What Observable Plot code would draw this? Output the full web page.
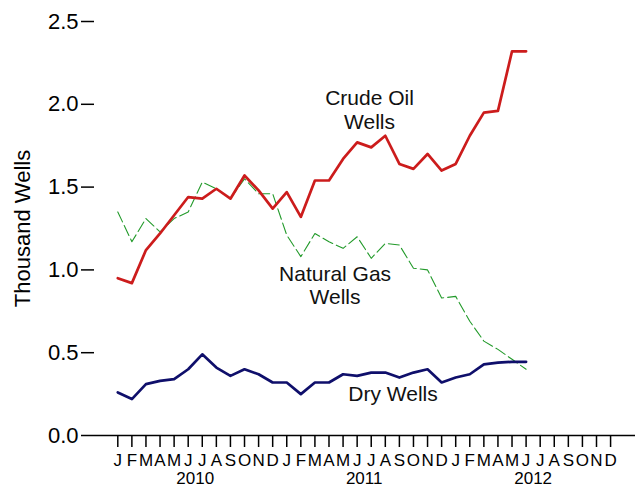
<!DOCTYPE html>
<html><head><meta charset="utf-8">
<script src="https://cdn.jsdelivr.net/npm/d3@7"></script>
<script src="https://cdn.jsdelivr.net/npm/@observablehq/plot@0.6"></script>
<style>body{margin:0;background:#fff} #chart{width:635px;height:487px}</style>
</head><body><div id="chart"></div>
<script>
// Month tick letters and years on the x axis
const monthLetters = ["J","F","M","A","M","J","J","A","S","O","N","D"];
const years = ["2010","2011","2012"];
const axisMonths = 36; // Jan 2010 .. Dec 2012
// Monthly values Jan 2010 .. Jun 2012 (thousand wells)
const crude = [0.95,0.92,1.12,1.22,1.33,1.44,1.43,1.49,1.43,1.57,1.48,1.37,
               1.47,1.32,1.54,1.54,1.67,1.77,1.74,1.81,1.64,1.61,1.70,1.60,
               1.64,1.81,1.95,1.96,2.32,2.32];
const gas   = [1.35,1.17,1.31,1.23,1.31,1.35,1.53,1.49,1.43,1.55,1.46,1.46,
               1.21,1.08,1.22,1.17,1.13,1.20,1.07,1.16,1.15,1.01,1.00,0.83,
               0.84,0.69,0.57,0.52,0.46,0.40];
const dry   = [0.26,0.22,0.31,0.33,0.34,0.40,0.49,0.41,0.36,0.40,0.37,0.32,
               0.32,0.25,0.32,0.32,0.37,0.36,0.38,0.38,0.35,0.38,0.40,0.32,
               0.35,0.37,0.43,0.44,0.445,0.445];
const yTicks = [0,0.5,1,1.5,2,2.5];
const seriesLabels = ["Crude Oil\nWells","Natural Gas\nWells","Dry Wells"];
const labelMonth = [17.88, 15.43, 19.55];
const labelValue = [1.97, 0.91, 0.257];

const toRows = (arr) => arr.map((v, i) => ({i, v}));
const labelRows = seriesLabels.map((t, k) => ({t, i: labelMonth[k], v: labelValue[k]}));

const plot = Plot.plot({
  width: 635, height: 487,
  marginLeft: 94, marginRight: 0, marginTop: 21, marginBottom: 52,
  style: {fontFamily: "'Liberation Sans', Arial, sans-serif", background: "#fff", color: "#000", overflow: "visible"},
  x: {type: "linear", domain: [-1.655, 36.77]},
  y: {domain: [0, 2.5]},
  marks: [
    Plot.ruleY([0], {stroke: "#000", strokeWidth: 1.5}),
    Plot.axisY(yTicks, {tickSize: 13, tickPadding: 3, tickFormat: d3.format(".1f"), fontSize: 22,
      strokeWidth: 1.5, label: "Thousand Wells", labelAnchor: "center", labelArrow: "none", labelOffset: 80}),
    Plot.axisX(d3.range(axisMonths), {tickSize: 12, tickPadding: 6, tickFormat: d => monthLetters[d % 12],
      fontSize: 17, strokeWidth: 1.5, label: null}),
    Plot.axisX(years.map((y, k) => k * 12 + 5.5), {tickSize: 0, tickPadding: 36,
      tickFormat: d => years[Math.round((d - 5.5) / 12)], fontSize: 17, label: null}),
    Plot.line(toRows(gas), {x: "i", y: "v", stroke: "#229a2a", strokeWidth: 1.1, strokeDasharray: "11,4"}),
    Plot.line(toRows(crude), {x: "i", y: "v", stroke: "#cc1c1c", strokeWidth: 2.7}),
    Plot.line(toRows(dry), {x: "i", y: "v", stroke: "#0f0f6b", strokeWidth: 2.7}),
    Plot.text(labelRows, {x: "i", y: "v", text: "t", fontSize: 21, lineHeight: 1.14, fill: "#111"})
  ]
});
document.getElementById("chart").appendChild(plot);
</script>
</body></html>
